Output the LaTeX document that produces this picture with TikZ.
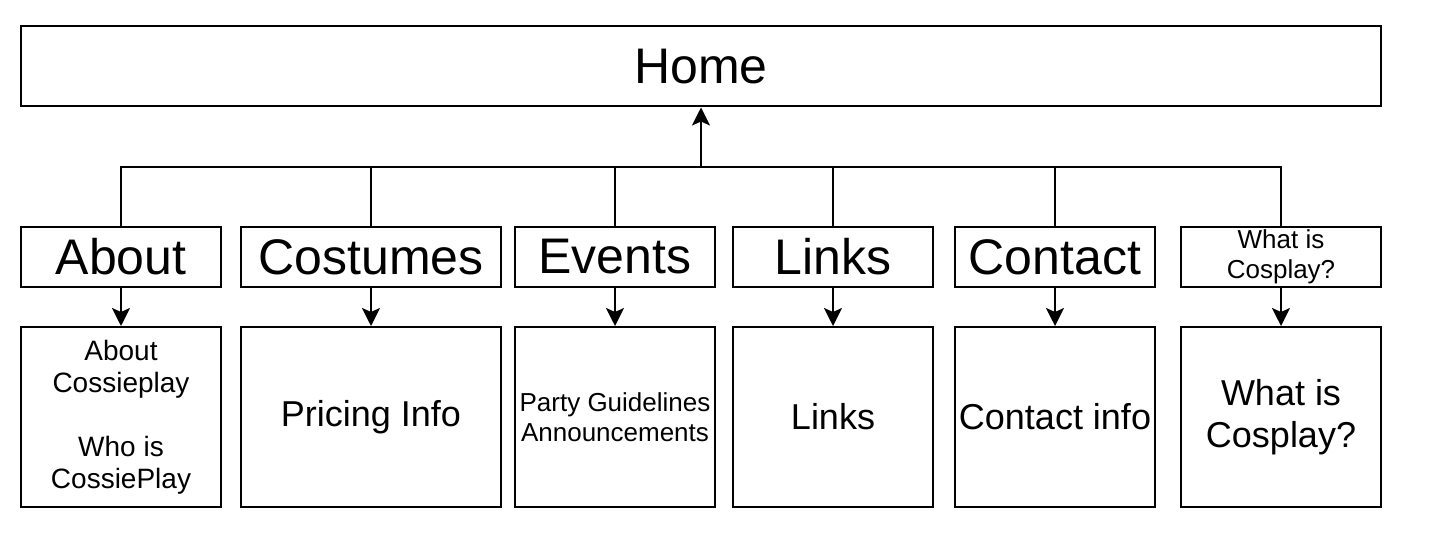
\documentclass[tikz,border=0pt]{standalone}
\usepackage{fontspec}
\setmainfont{Liberation Sans}
\usetikzlibrary{positioning,arrows.meta}

\begin{document}
\begin{tikzpicture}[x=0.5pt,y=-0.5pt,>={Stealth[length=9pt,width=9pt,inset=2pt]},
  line width=1pt,
  page/.style={draw,minimum height=30pt,inner sep=0pt,font=\fontsize{25}{30}\selectfont},
  sub/.style={draw,minimum height=90pt,inner sep=0pt,align=center}]
\useasboundingbox (0,0) rectangle (1434,544);
\node[draw,minimum width=680pt,minimum height=40pt,font=\fontsize{25}{30}\selectfont] (home) at (701,66.5) {Home};
% top level pages
\node[page,minimum width=100pt] (about) at (121,257) {About};
\node[page,minimum width=130pt] (cost) at (371,257) {Costumes};
\node[page,minimum width=100pt] (events) at (615,257) {Events};
\node[page,minimum width=100pt] (links) at (833,257) {Links};
\node[page,minimum width=100pt] (contact) at (1055,257) {Contact};
\node[page,minimum width=100pt,align=center,font=\fontsize{13}{15}\selectfont] (what) at (1281,257) {What is\\Cosplay?};
% contents
\node[sub,minimum width=100pt,font=\fontsize{14}{16}\selectfont,below=19pt of about] (aboutc) {About\\Cossieplay\\[16pt]Who is\\CossiePlay};
\node[sub,minimum width=130pt,font=\fontsize{18}{21}\selectfont,below=19pt of cost] (costc) {Pricing Info};
\node[sub,minimum width=100pt,font=\fontsize{13}{15}\selectfont,below=19pt of events] (eventsc) {Party Guidelines\\Announcements};
\node[sub,minimum width=100pt,font=\fontsize{18}{21}\selectfont,below=19pt of links] (linksc) {Links};
\node[sub,minimum width=100pt,font=\fontsize{18}{21}\selectfont,below=19pt of contact] (contactc) {Contact info};
\node[sub,minimum width=100pt,font=\fontsize{18}{21}\selectfont,below=19pt of what] (whatc) {What is\\Cosplay?};
\coordinate (bus) at (701,167);
\draw[->] (bus) -- (home);
\foreach \p in {about,cost,events,links,contact,what}{
  \draw (\p.north) |- (bus);
  \draw[->] (\p) -- (\p c);
}
\end{tikzpicture}
\end{document}
